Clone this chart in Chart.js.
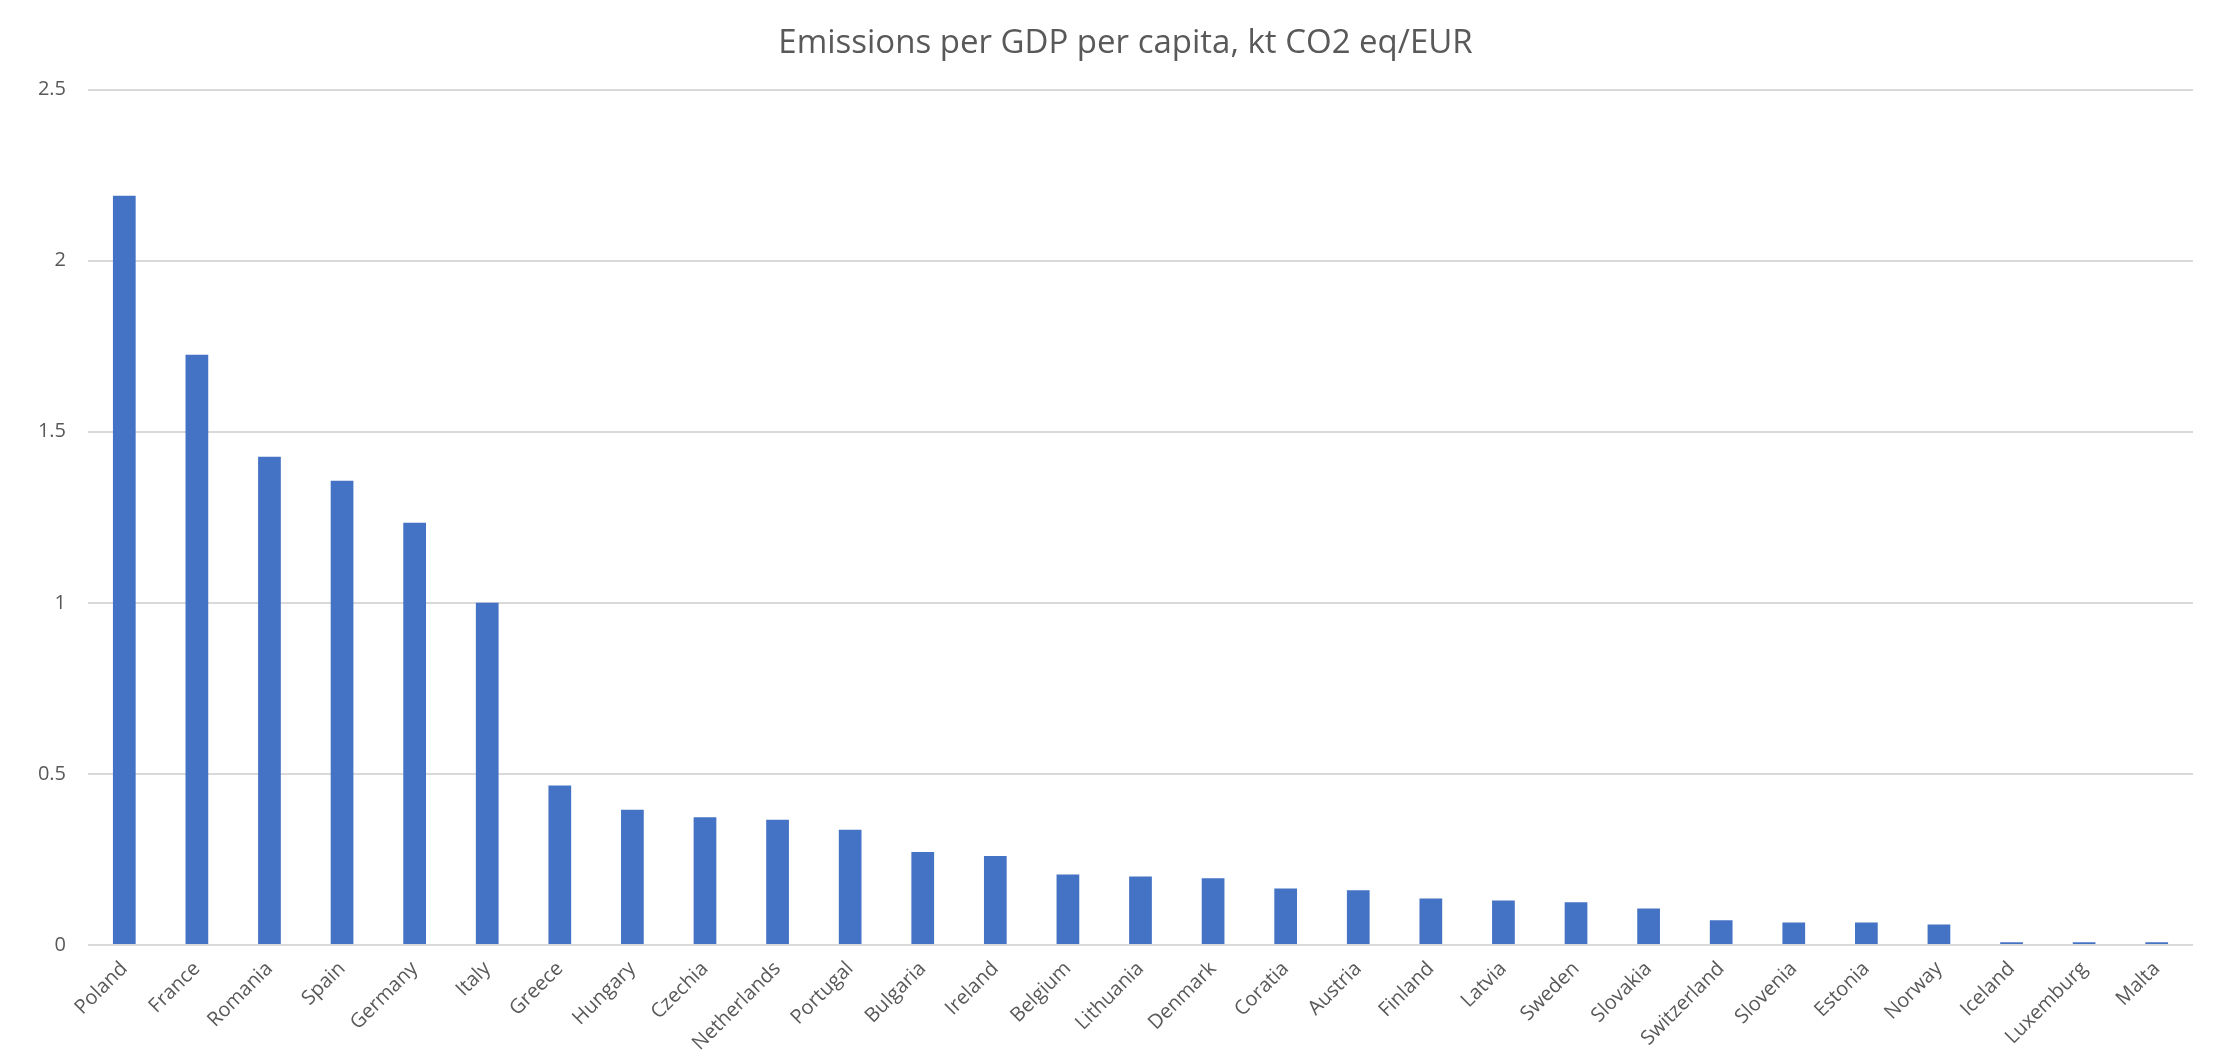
<!DOCTYPE html>
<html>
<head>
<meta charset="utf-8">
<script src="https://cdn.jsdelivr.net/npm/chart.js@4/dist/chart.umd.min.js"></script>
<style>
  html, body { margin: 0; padding: 0; background: #ffffff; }
  #wrap { width: 2216px; height: 1063px; position: relative; }
</style>
</head>
<body>
<div id="wrap"><canvas id="c" width="2216" height="1063"></canvas></div>
<script>
const categories = ["Poland","France","Romania","Spain","Germany","Italy","Greece","Hungary","Czechia","Netherlands","Portugal","Bulgaria","Ireland","Belgium","Lithuania","Denmark","Coratia","Austria","Finland","Latvia","Sweden","Slovakia","Switzerland","Slovenia","Estonia","Norway","Iceland","Luxemburg","Malta"];
const emissions = [2.19,1.725,1.427,1.357,1.234,1.0,0.466,0.395,0.373,0.366,0.337,0.272,0.26,0.206,0.2,0.195,0.165,0.16,0.136,0.13,0.125,0.107,0.072,0.066,0.066,0.06,0.008,0.008,0.008];
const yTicks = [0, 0.5, 1, 1.5, 2, 2.5];
const chartTitle = "Emissions per GDP per capita, kt CO2 eq/EUR";

const textColor = "#595959";
const fontFamily = "'Open Sans', Lato, sans-serif";

// Nudge the title block slightly left so it sits where the reference title sits.
const titleShift = {
  id: "titleShift",
  afterLayout(chart) {
    if (chart.titleBlock) chart.titleBlock.left -= 30;
  }
};

new Chart(document.getElementById("c"), {
  type: "bar",
  data: {
    labels: categories,
    datasets: [{
      data: emissions,
      backgroundColor: "#4472C4",
      borderWidth: 0,
      barPercentage: 0.313,
      categoryPercentage: 1.0
    }]
  },
  plugins: [titleShift],
  options: {
    responsive: false,
    animation: false,
    devicePixelRatio: 1,
    layout: { padding: { left: 0, right: 23, top: 0, bottom: 0 } },
    plugins: {
      legend: { display: false },
      tooltip: { enabled: false },
      title: {
        display: true,
        fullSize: false,
        text: chartTitle,
        color: textColor,
        font: { family: fontFamily, size: 33, weight: "normal" },
        padding: { top: 24, bottom: 26 }
      }
    },
    scales: {
      x: {
        grid: { display: false, drawTicks: false },
        border: { display: false },
        ticks: {
          color: textColor,
          font: { family: fontFamily, size: 20 },
          maxRotation: 45,
          minRotation: 45,
          autoSkip: false,
          padding: 12
        },
        afterFit(scale) { scale.height = 118; }
      },
      y: {
        min: 0,
        max: 2.5,
        afterBuildTicks(scale) { scale.ticks = yTicks.map(v => ({ value: v })); },
        grid: { color: "#d9d9d9", lineWidth: 2, drawTicks: false },
        border: { display: false },
        ticks: {
          color: textColor,
          font: { family: fontFamily, size: 20 },
          padding: 22,
          callback: (v) => String(v)
        },
        afterFit(scale) { scale.width = 88; }
      }
    }
  }
});
</script>
</body>
</html>
